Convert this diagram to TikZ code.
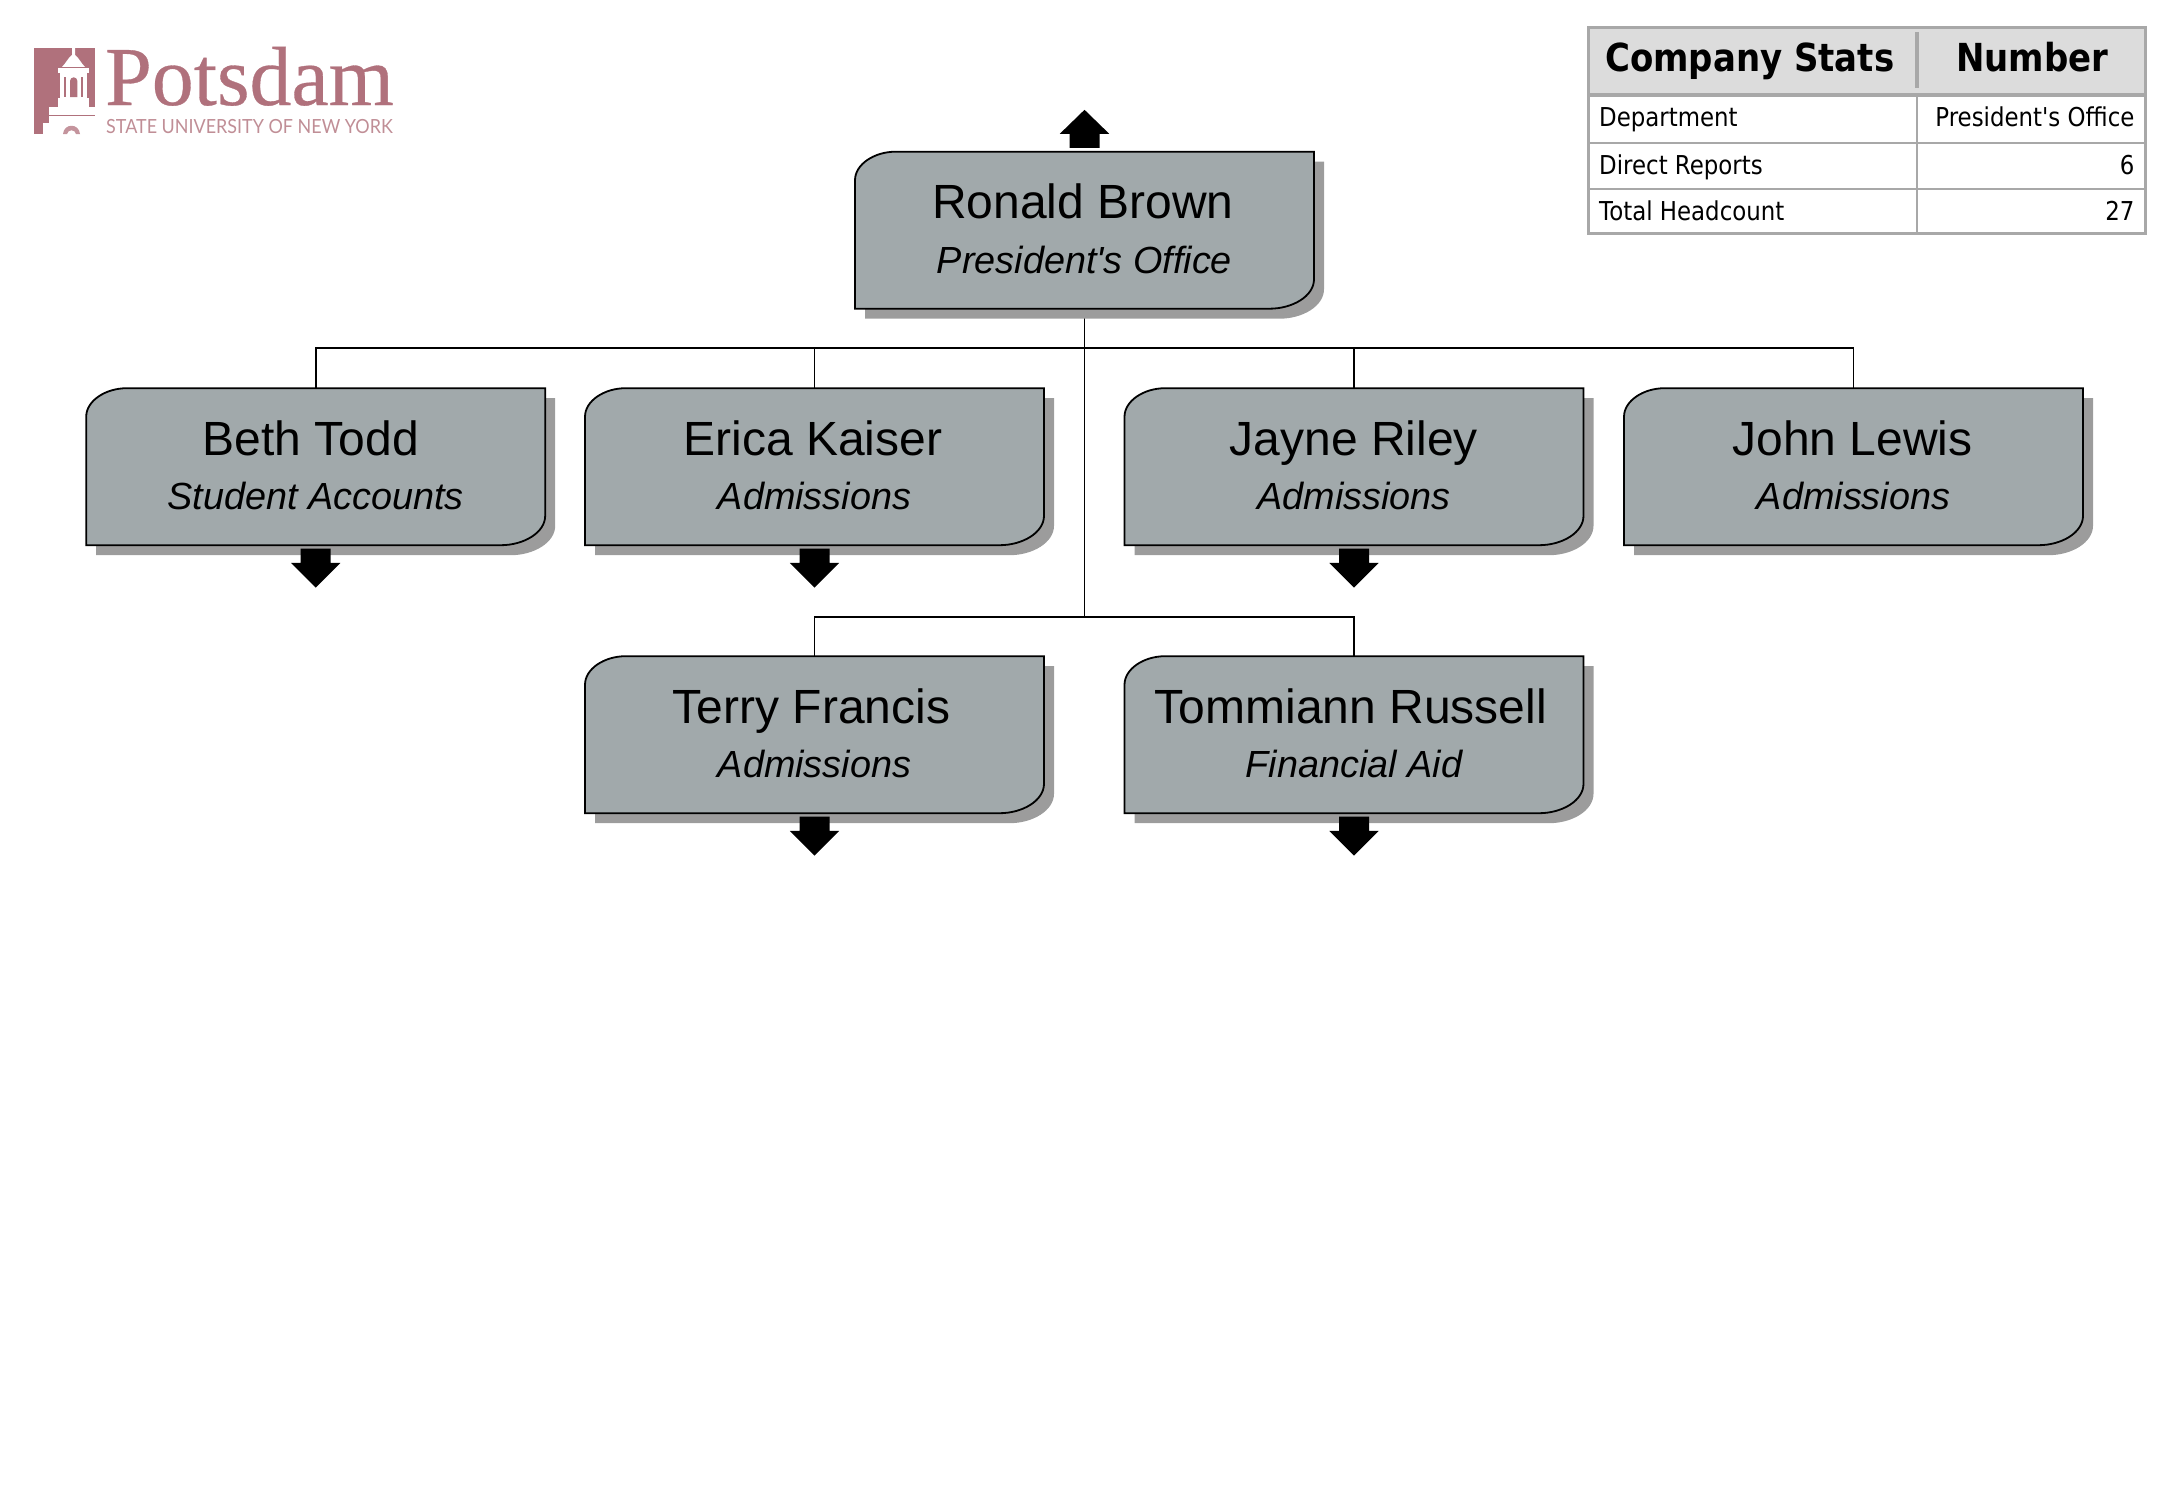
\documentclass[tikz,border=0pt]{standalone}
\usepackage{fontspec}
\usepackage{xcolor}
\usepackage{tikz}
\usetikzlibrary{backgrounds}
\newfontfamily\orgfont{Liberation Sans}
\newfontfamily\statfont[FakeStretch=0.88]{DejaVu Sans}
\newfontfamily\serifmark[FakeBold=0.4]{Liberation Serif}
\newfontfamily\markfont[FakeStretch=0.92]{Lato}
\definecolor{boxgray}{HTML}{A1A9AB}
\definecolor{shadowgray}{HTML}{9C9C9C}
\definecolor{gridgray}{HTML}{A8A8A8}
\definecolor{headgray}{HTML}{DCDCDC}
\definecolor{maroon}{HTML}{B0717C}
\tikzset{
  orgnode/.style={minimum width=459pt, minimum height=157pt, inner sep=0pt, align=center, font=\orgfont\fontsize{48}{54.6}\selectfont},
  statcell/.style={inner sep=0pt, anchor=base west, font=\statfont\fontsize{26}{30}\selectfont},
  stathead/.style={inner sep=0pt, anchor=base west, font=\statfont\bfseries\fontsize{38.6}{44}\selectfont},
  orgline/.style={line width=1.8pt, black},
}
% box outline with the two cut corners, around the origin
\newcommand{\orgpath}{(-189,-78.5) -- (229.5,-78.5) -- (229.5,49)
  .. controls (229.5,66) and (208,78.5) .. (185,78.5) -- (-229.5,78.5) -- (-229.5,-50)
  .. controls (-229.5,-66) and (-210,-78.5) .. (-189,-78.5) -- cycle}
\newcommand{\orgbox}[5]{
\fill [shadowgray, shift={(#2+10,#3+10)}] \orgpath;
\draw [fill=boxgray, line width=1.8pt, shift={(#2,#3)}] \orgpath;
\node [orgnode] (#1) at (#2,#3) {\rule{0pt}{35pt}#4\\
  \fontsize{37.8}{54.6}\selectfont\itshape\rule[-3.4pt]{0pt}{3.4pt}#5};
}
\newcommand{\downmark}[1]{
\fill [shift={(#1.south)}] (-15,3.3) -- (15,3.3) -- (15,17.5) -- (24.7,17.5) -- (0,42.2) -- (-24.7,17.5) -- (-15,17.5) -- cycle;
}
\begin{document}
\begin{tikzpicture}[x=1pt, y=-1pt]
\useasboundingbox (0,0) rectangle (2167,1504);
% logo
\fill [maroon] (34,48) rectangle (95,115.5);
\fill [maroon] (34,115) rectangle (43,134);
\fill [maroon] (43,115) rectangle (49,123);
\fill [white] (49,107) rectangle (95,114.5);
\fill [white] (60,70) rectangle (87,107);
\fill [white] (58,68) rectangle (89,73);
\fill [white] (58,98) rectangle (89,107);
\fill [white] (62,67) .. controls (66,63) and (68,58) .. (72,55) -- (72,47) -- (75,47) -- (75,55) .. controls (79,58) and (81,63) .. (85,67) -- cycle;
\fill [maroon] (70,97) -- (70,81) arc[start angle=180, end angle=360, radius=3.7] -- (77.4,97) -- cycle;
\fill [maroon] (64,77) rectangle (66,97);
\fill [maroon] (81,77) rectangle (83,97);
\fill [maroon!75] (63,134) .. controls (64,123) and (79,123) .. (80,134) -- (76,134) .. controls (75,129) and (68,129) .. (67,134) -- cycle;
\node [inner sep=0pt, anchor=base west, text=maroon, font=\serifmark\fontsize{83.8}{84}\selectfont] (potsdam) at (105,105) {Potsdam};
\node [inner sep=0pt, anchor=base west, text=maroon!80, font=\markfont\fontsize{19.5}{20}\selectfont] (suny) at (106,133) {STATE UNIVERSITY OF NEW YORK};
% stats table
\fill [headgray] (1588,27) rectangle (2145,95);
\draw [gridgray, line width=2pt] (1588,142.7) -- (2145,142.7);
\draw [gridgray, line width=2pt] (1588,189) -- (2145,189);
\draw [gridgray, line width=2pt] (1916.5,95) -- (1916.5,233);
\draw [gridgray, line width=4pt] (1916.5,32) -- (1916.5,88);
\draw [gridgray, line width=4pt] (1588,95) -- (2145,95);
\draw [gridgray, line width=3pt] (1588,27.5) rectangle (2145,233);
\node [stathead] (stats) at (1605,71.7) {Company Stats};
\node [stathead] (number) at (1956,71.7) {Number};
\node [statcell] (dept) at (1599,126.7) {Department};
\node [statcell] (reports) at (1599,174.3) {Direct Reports};
\node [statcell] (headcount) at (1599,220.7) {Total Headcount};
\node [statcell, anchor=base east] (deptval) at (2134.6,126.7) {President's Office};
\node [statcell, anchor=base east] (reportsval) at (2134.6,174.3) {6};
\node [statcell, anchor=base east] (headcountval) at (2134.6,220.7) {27};
% people
\orgbox{ronald}{1084.5}{230.2}{Ronald Brown\kern3pt}{President's Office}
\orgbox{beth}{315.7}{466.7}{Beth Todd\kern10pt}{Student Accounts}
\orgbox{erica}{814.5}{466.7}{Erica Kaiser\kern3pt}{Admissions}
\orgbox{jayne}{1354}{466.7}{Jayne Riley}{Admissions}
\orgbox{john}{1853.5}{466.7}{John Lewis\kern2pt}{Admissions}
\orgbox{terry}{814.5}{734.7}{Terry Francis\kern6pt}{Admissions}
\orgbox{tommiann}{1354}{734.7}{Tommiann Russell\kern6pt}{Financial Aid}
% arrows
\fill [shift={(ronald.north)}] (-15,-3.7) -- (15,-3.7) -- (15,-17.7) -- (24.7,-17.7) -- (0,-41.7) -- (-24.7,-17.7) -- (-15,-17.7) -- cycle;
\downmark{beth}
\downmark{erica}
\downmark{jayne}
\downmark{terry}
\downmark{tommiann}
% connectors
\coordinate (upperbus) at (1084.5,348.3);
\coordinate (lowerbus) at (1084.5,616.7);
\begin{scope}[on background layer]
\draw [orgline] (ronald.south) -- (lowerbus);
\draw [orgline] (upperbus) -| (beth.north);
\draw [orgline] (upperbus) -| (erica.north);
\draw [orgline] (upperbus) -| (jayne.north);
\draw [orgline] (upperbus) -| (john.north);
\draw [orgline] (lowerbus) -| (terry.north);
\draw [orgline] (lowerbus) -| (tommiann.north);
\end{scope}
\end{tikzpicture}
\end{document}
